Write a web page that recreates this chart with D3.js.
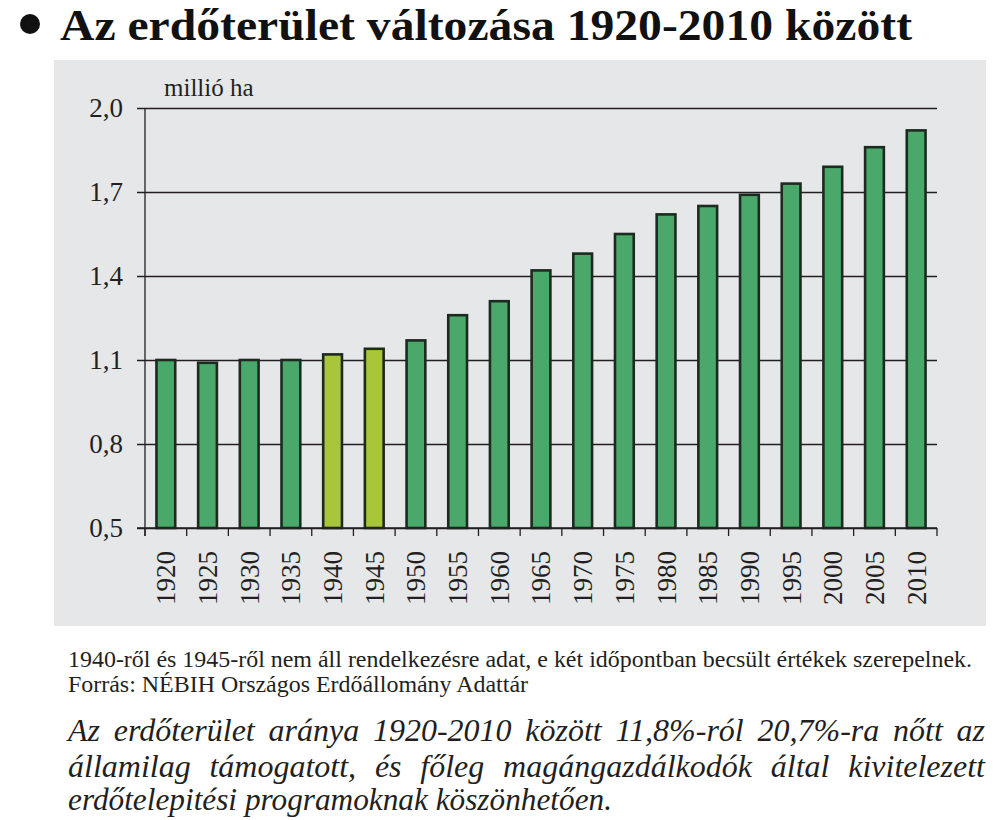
<!DOCTYPE html>
<html>
<head>
<meta charset="utf-8">
<script src="https://cdn.jsdelivr.net/npm/d3@7"></script>
<style>
  html, body { margin: 0; padding: 0; background: #ffffff; }
  svg { display: block; }
  svg text { font-family: "Liberation Serif", "DejaVu Serif", serif !important; fill: #231f20; }
</style>
</head>
<body>
<svg id="chart" width="1002" height="820"></svg>
<script>
// ---- data ----
const years = [1920, 1925, 1930, 1935, 1940, 1945, 1950, 1955, 1960, 1965,
               1970, 1975, 1980, 1985, 1990, 1995, 2000, 2005, 2010];
const values = [1.10, 1.09, 1.10, 1.10, 1.12, 1.14, 1.17, 1.26, 1.31, 1.42,
                1.48, 1.55, 1.62, 1.65, 1.69, 1.73, 1.79, 1.86, 1.92];
const estimatedYears = [1940, 1945];
const yTicks = [0.5, 0.8, 1.1, 1.4, 1.7, 2.0];
const titleText = "Az erdőterület változása 1920-2010 között";
const unitLabel = "millió ha";
const noteLines = [
  "1940-ről és 1945-ről nem áll rendelkezésre adat, e két időpontban becsült értékek szerepelnek.",
  "Forrás: NÉBIH Országos Erdőállomány Adattár"
];
const paraLines = [
  "Az erdőterület aránya 1920-2010 között 11,8%-ról 20,7%-ra nőtt az",
  "államilag támogatott, és főleg magángazdálkodók által kivitelezett",
  "erdőtelepitési programoknak köszönhetően."
];

// ---- layout ----
const FONT = '"Liberation Serif", "DejaVu Serif", serif';
const svg = d3.select("#chart");
const plot = { left: 145, right: 937, top: 108, bottom: 528 };

// title
svg.append("circle").attr("cx", 30).attr("cy", 24).attr("r", 10).attr("fill", "#111");
svg.append("text")
  .attr("x", 60).attr("y", 40)
  .attr("font-family", FONT)
  .attr("font-size", 45).attr("font-weight", "bold")
  .attr("textLength", 852).attr("lengthAdjust", "spacingAndGlyphs")
  .style("fill", "#111")
  .text(titleText);

// panel background
svg.append("rect").attr("x", 54).attr("y", 60).attr("width", 932).attr("height", 566)
  .attr("fill", "#e6e7e9");

const x = d3.scaleBand().domain(years).range([plot.left, plot.right]).paddingInner(0.55).paddingOuter(0.275);
const y = d3.scaleLinear().domain([0.5, 2.0]).range([plot.bottom, plot.top]);
const fmt = v => d3.format(".1f")(v).replace(".", ",");

// gridlines + y ticks
const yAxis = d3.axisLeft(y).tickValues(yTicks).tickFormat(fmt)
  .tickSize(-(plot.right - plot.left)).tickPadding(15);
const gy = svg.append("g").attr("transform", `translate(${plot.left},0)`).call(yAxis)
  .attr("font-family", FONT);
gy.select(".domain").remove();
gy.selectAll(".tick line").attr("stroke", "#231f20").attr("stroke-width", 1.3)
  .attr("x1", -8);
gy.selectAll(".tick text").attr("font-size", 27).attr("x", -22)
  .attr("font-family", FONT).style("fill", "#231f20");

// y axis line
svg.append("line").attr("x1", plot.left).attr("x2", plot.left)
  .attr("y1", plot.top).attr("y2", plot.bottom + 8)
  .attr("stroke", "#231f20").attr("stroke-width", 1.3);

// unit label
svg.append("text").attr("x", 164).attr("y", 96).attr("font-size", 25)
  .attr("font-family", FONT).text(unitLabel);

// bars
svg.append("g").selectAll("rect").data(years).join("rect")
  .attr("x", d => x(d))
  .attr("width", x.bandwidth())
  .attr("y", (d, i) => y(values[i]))
  .attr("height", (d, i) => y(0.5) - y(values[i]))
  .attr("fill", d => estimatedYears.includes(d) ? "#a9c63b" : "#4ba86b")
  .attr("stroke", "#1c2a20").attr("stroke-width", 2.6);

// x axis
const step = x.step();
const bounds = d3.range(years.length + 1).map(i => plot.left + i * step);
svg.append("line").attr("x1", plot.left - 8).attr("x2", plot.right)
  .attr("y1", plot.bottom).attr("y2", plot.bottom)
  .attr("stroke", "#231f20").attr("stroke-width", 1.3);
svg.append("g").selectAll("line").data(bounds).join("line")
  .attr("x1", d => d).attr("x2", d => d)
  .attr("y1", plot.bottom).attr("y2", plot.bottom + 8)
  .attr("stroke", "#231f20").attr("stroke-width", 1.3);
svg.append("g").selectAll("text").data(years).join("text")
  .attr("transform", d => `translate(${x(d) + x.bandwidth() / 2},551) rotate(-90)`)
  .attr("text-anchor", "end").attr("dy", "0.35em")
  .attr("font-family", FONT)
  .attr("font-size", 27)
  .text(d => d);

// notes
svg.append("text").attr("x", 68).attr("y", 667).attr("font-size", 23).attr("font-family", FONT)
  .attr("textLength", 904).attr("lengthAdjust", "spacingAndGlyphs").text(noteLines[0]);
svg.append("text").attr("x", 68).attr("y", 692).attr("font-size", 23).attr("font-family", FONT)
  .attr("textLength", 460).attr("lengthAdjust", "spacingAndGlyphs").text(noteLines[1]);

// italic paragraph (justified lines)
const paraX0 = 68, paraX1 = 985, paraBase = [741, 777, 810];
paraLines.forEach((line, li) => {
  const t = svg.append("text").attr("y", paraBase[li]).attr("font-size", 32)
    .attr("font-family", FONT).attr("font-style", "italic");
  if (li === paraLines.length - 1) {
    t.attr("x", paraX0).attr("textLength", 544).attr("lengthAdjust", "spacingAndGlyphs").text(line);
    return;
  }
  const words = line.split(" ");
  const spans = words.map(w => t.append("tspan").text(w));
  const widths = spans.map(s => s.node().getComputedTextLength());
  const total = d3.sum(widths);
  let scale = 1;
  const minGap = 12;
  if (total + minGap * (words.length - 1) > paraX1 - paraX0) {
    scale = (paraX1 - paraX0 - minGap * (words.length - 1)) / total;
  }
  const gap = (paraX1 - paraX0 - total * scale) / (words.length - 1);
  let cx = paraX0;
  spans.forEach((s, i) => {
    s.attr("x", cx);
    if (scale !== 1) s.attr("textLength", widths[i] * scale).attr("lengthAdjust", "spacingAndGlyphs");
    cx += widths[i] * scale + gap;
  });
});
</script>
</body>
</html>
